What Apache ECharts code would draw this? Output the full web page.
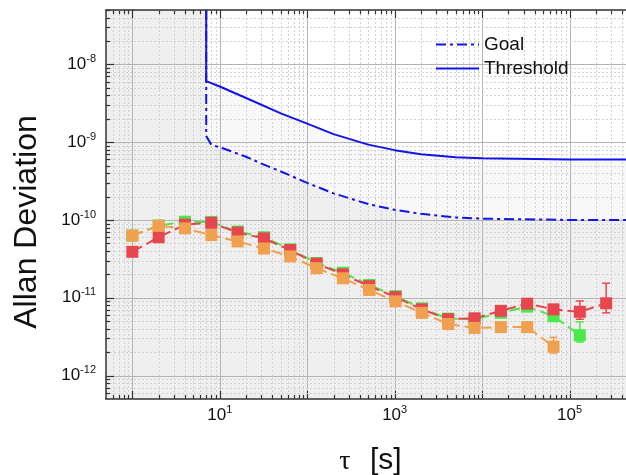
<!DOCTYPE html>
<html><head><meta charset="utf-8">
<script src="https://cdn.jsdelivr.net/npm/echarts@6/dist/echarts.min.js"></script>
<style>html,body{margin:0;padding:0;background:#fff;overflow:hidden}#c{width:660px;height:475px}</style>
</head><body><div id="c"></div>
<script>
const tau = [1,2,4,8,16,32,64,128,256,512,1024,2048,4096,8192,16384,32768,65536,131072,262144];
const redVals = [3.9e-11,6.0e-11,8.7e-11,9.2e-11,6.9e-11,5.8e-11,4.1e-11,2.75e-11,2.0e-11,1.41e-11,1.02e-11,7.1e-12,5.3e-12,5.45e-12,6.8e-12,8.4e-12,7.1e-12,6.6e-12,8.5e-12];
const greenVals = [6.3e-11,8.5e-11,9.5e-11,9.4e-11,7.1e-11,6.0e-11,4.2e-11,2.8e-11,2.1e-11,1.46e-11,1.05e-11,7.3e-12,5.4e-12,5.3e-12,6.4e-12,7.7e-12,5.8e-12,3.3e-12];
const orangeVals = [6.3e-11,8.4e-11,7.8e-11,6.4e-11,5.3e-11,4.3e-11,3.4e-11,2.4e-11,1.78e-11,1.26e-11,9.0e-12,6.4e-12,4.6e-12,4.1e-12,4.2e-12,4.2e-12,2.36e-12];
const redErr = [[131072,5.3e-12,9.1e-12],[262144,6.4e-12,1.54e-11]];
const greenErr = [[131072,2.7e-12,4.9e-12]];
const orangeErr = [[65536,1.95e-12,3.1e-12]];
const goalTau = [7,7,8,11,20,30,50,100,200,500,1000,2000,5000,10000,100000,1000000];
const goalVals = [5e-8,1.2e-9,9.3e-10,8.3e-10,6.5e-10,5.3e-10,4.2e-10,3.0e-10,2.2e-10,1.6e-10,1.35e-10,1.2e-10,1.08e-10,1.04e-10,1.0e-10,1.0e-10];
const thrTau = [7,7,10,20,50,100,200,500,1000,2000,5000,10000,100000,1000000];
const thrVals = [5e-8,6.1e-9,5.2e-9,3.7e-9,2.35e-9,1.73e-9,1.27e-9,9.3e-10,7.9e-10,7.0e-10,6.4e-10,6.2e-10,6.0e-10,6.0e-10];
const xLabelExps = [1,3,5];
const yLabelExps = [-8,-9,-10,-11,-12];
const xRange = [0.5, 1e6];
const yRange = [5e-13, 5e-8];

const RED='#e8464e', GREEN='#4ae84a', ORANGE='#f0a04e', BLUE='#1414e6';
const FONT='"Liberation Sans", Arial, sans-serif';

function pairs(xs, ys){ return ys.map((v,i)=>[xs[i], v]); }

// axis decoration values (gridlines / ticks)
const deco = [];
for (let e=-1;e<=6;e++) for (let m=1;m<=9;m++){ const v=m*Math.pow(10,e); if(v>=xRange[0]*0.999 && v<=xRange[1]*1.001) deco.push([v,1e-10,m===1?0:1]); }
for (let e=-13;e<=-8;e++) for (let m=1;m<=9;m++){ const v=m*Math.pow(10,e); if(v>=yRange[0]*0.999 && v<=yRange[1]*1.001) deco.push([1,v,m===1?2:3]); }

function renderDeco(params, api){
  const cs = params.coordSys; const k = api.value(2);
  const ch = [];
  const tickStyle = {stroke:'#333', lineWidth:1.2};
  if (k<2){
    const px = Math.round(api.coord([api.value(0),1e-10])[0])+0.5;
    if (px < cs.x+1) return;
    ch.push({type:'line', shape:{x1:px,y1:cs.y,x2:px,y2:cs.y+cs.height}, style: k===0?{stroke:'#b4b4b4',lineWidth:1}:{stroke:'#d2d2d2',lineWidth:1,lineDash:[2,2]}});
    const L = k===0?8:4;
    ch.push({type:'line', shape:{x1:px,y1:cs.y+cs.height,x2:px,y2:cs.y+cs.height-L}, style:tickStyle});
    ch.push({type:'line', shape:{x1:px,y1:cs.y,x2:px,y2:cs.y+L}, style:tickStyle});
  } else {
    const py = Math.round(api.coord([1,api.value(1)])[1])+0.5;
    if (py > cs.y+cs.height-1) return;
    ch.push({type:'line', shape:{x1:cs.x,y1:py,x2:cs.x+cs.width,y2:py}, style: k===2?{stroke:'#b4b4b4',lineWidth:1}:{stroke:'#d2d2d2',lineWidth:1,lineDash:[2,2]}});
    const L = k===2?8:4;
    ch.push({type:'line', shape:{x1:cs.x,y1:py,x2:cs.x+L,y2:py}, style:tickStyle});
  }
  return {type:'group', children:ch};
}
function errSeries(data, color){
  return {type:'custom', data:data, z:4, silent:true, clip:false,
    encode:{x:0,y:[1,2]},
    renderItem:function(params, api){
      const x=api.value(0);
      const p1=api.coord([x,api.value(2)]), p2=api.coord([x,api.value(1)]);
      const st={stroke:color,lineWidth:1.5};
      return {type:'group',children:[
        {type:'line',shape:{x1:p1[0],y1:p1[1],x2:p2[0],y2:p2[1]},style:st},
        {type:'line',shape:{x1:p1[0]-4,y1:p1[1],x2:p1[0]+4,y2:p1[1]},style:st},
        {type:'line',shape:{x1:p2[0]-4,y1:p2[1],x2:p2[0]+4,y2:p2[1]},style:st}
      ]};
    }};
}
function dataSeries(name, vals, color, z){
  return {name:name, type:'line', data:pairs(tau, vals), z:z, symbol:'rect', symbolSize:12,
    lineStyle:{color:color, width:2, type:[11,5]}, itemStyle:{color:color}, silent:true, animation:false};
}
function expFmt(list){
  return function(v){
    const l=Math.log10(v), e=Math.round(l);
    if (Math.abs(l-e)>1e-6 || list.indexOf(e)<0) return '';
    return '{b|10}{s|'+e+'}';
  };
}
const rich = {b:{fontSize:17,color:'#111',fontFamily:FONT,lineHeight:22}, s:{fontSize:11,color:'#111',fontFamily:FONT,verticalAlign:'top',lineHeight:14}};

const chart = echarts.init(document.getElementById('c'), null, {renderer:'canvas'});
chart.setOption({
  animation:false,
  textStyle:{fontFamily:FONT},
  grid:{left:106, top:10, right:2, bottom:76, show:true, backgroundColor:'#efefef', borderWidth:0},
  xAxis:[
    {type:'log', min:xRange[0], max:xRange[1], z:10,
     axisLine:{show:true,lineStyle:{color:'#333',width:1.5}}, axisTick:{show:false}, splitLine:{show:false},
     axisLabel:{interval:0, margin:5, formatter:expFmt(xLabelExps), rich:rich}},
    {type:'log', position:'top', min:xRange[0], max:xRange[1], z:10,
     axisLine:{show:true,lineStyle:{color:'#333',width:1.5}}, axisTick:{show:false}, splitLine:{show:false}, axisLabel:{show:false}}
  ],
  yAxis:{type:'log', min:yRange[0], max:yRange[1], z:10,
     axisLine:{show:true,lineStyle:{color:'#333',width:1.5}}, axisTick:{show:false}, splitLine:{show:false},
     axisLabel:{interval:0, margin:10, formatter:expFmt(yLabelExps), rich:rich}},
  legend:{data:['Goal','Threshold'], orient:'vertical', left:435, top:35, padding:0, itemWidth:43, itemHeight:14, itemGap:5,
     itemStyle:{color:'rgba(0,0,0,0)', borderWidth:0, opacity:0},
     textStyle:{fontSize:19,color:'#111',fontFamily:FONT}, selectedMode:false},
  graphic:[
    {type:'text', x:27, y:222, rotation:Math.PI/2, style:{text:'Allan Deviation', font:'32px '+FONT, fill:'#111', textAlign:'center', textVerticalAlign:'middle', align:'center', verticalAlign:'middle'}},
    {type:'text', x:345, y:462, style:{text:'τ', font:'28px "Liberation Serif", serif', fill:'#111', textAlign:'center', textVerticalAlign:'middle', align:'center', verticalAlign:'middle'}},
    {type:'text', x:370, y:461, style:{text:'[s]', font:'30px '+FONT, fill:'#111', textAlign:'left', textVerticalAlign:'middle', align:'left', verticalAlign:'middle'}}
  ],
  series:[
    {name:'goalFill', type:'line', data:pairs(goalTau, goalVals), z:1, symbol:'none', silent:true,
     lineStyle:{opacity:0}, areaStyle:{origin:'end', color:'#f8f8f8', opacity:1}},
    {name:'thrFill', type:'line', data:pairs(thrTau, thrVals), z:1, symbol:'none', silent:true,
     lineStyle:{opacity:0}, areaStyle:{origin:'end', color:'#ffffff', opacity:1}},
    {name:'deco', type:'custom', data:deco, z:2, silent:true, clip:false, encode:{x:0,y:1}, renderItem:renderDeco},
    {name:'Goal', type:'line', data:pairs(goalTau, goalVals), z:3, symbol:'none', silent:true,
     lineStyle:{color:BLUE, width:2, type:[10,4,3,4]}, itemStyle:{color:BLUE}},
    {name:'Threshold', type:'line', data:pairs(thrTau, thrVals), z:3, symbol:'none', silent:true,
     lineStyle:{color:BLUE, width:2, type:'solid'}, itemStyle:{color:BLUE}},
    errSeries(greenErr, GREEN), errSeries(redErr, RED), errSeries(orangeErr, ORANGE),
    dataSeries('green', greenVals, GREEN, 5),
    dataSeries('red', redVals, RED, 6),
    dataSeries('orange', orangeVals, ORANGE, 7)
  ]
});
</script></body></html>
